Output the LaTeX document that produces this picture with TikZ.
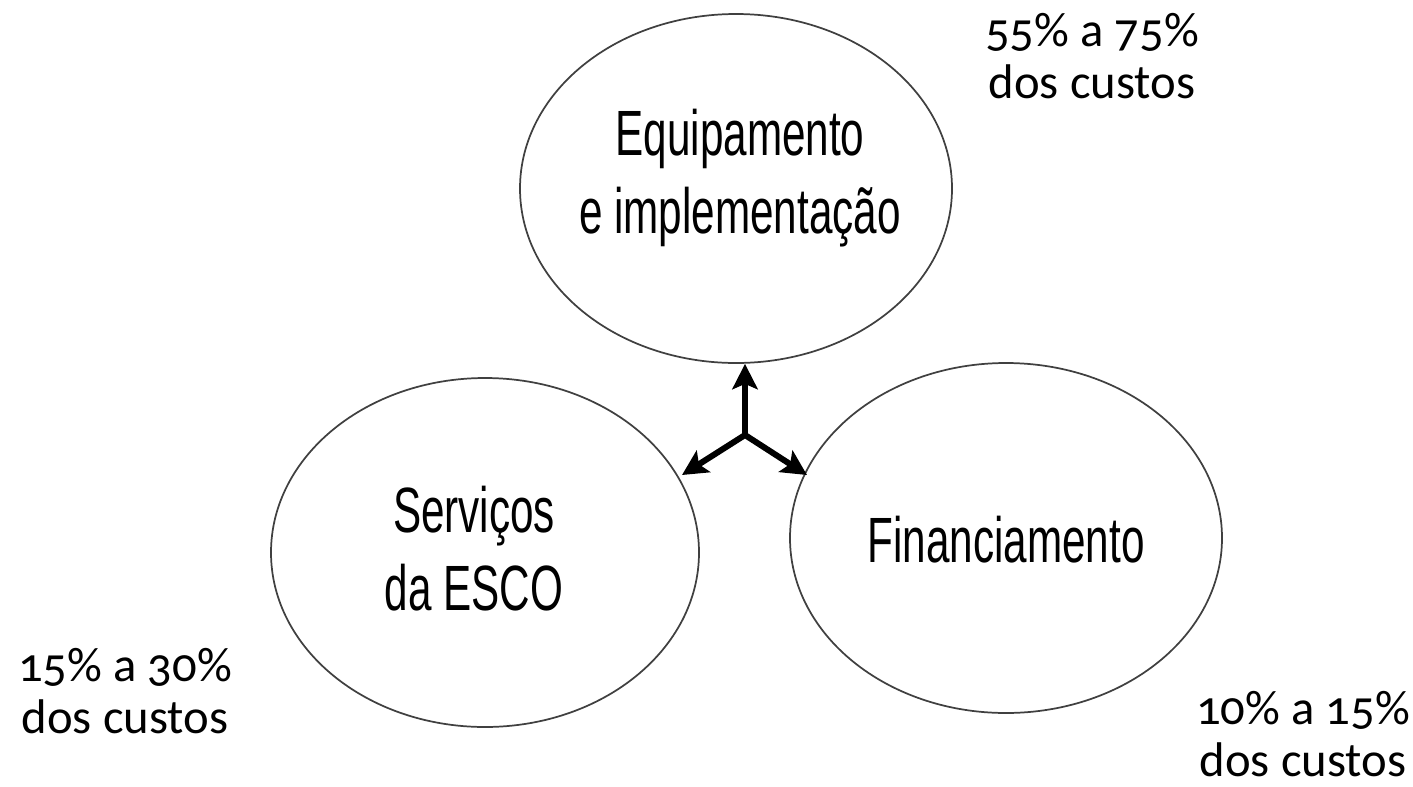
\documentclass[tikz,border=0pt]{standalone}
\usepackage{fontspec}
\usetikzlibrary{shapes.geometric,arrows.meta}
\newfontfamily\condfont[FakeStretch=0.66]{Liberation Sans}
\newfontfamily\pctfont[Numbers=OldStyle]{Carlito}
\begin{document}
\begin{tikzpicture}[x=0.75pt,y=-0.75pt,
  oval/.style={draw=black!75, line width=1.3pt, ellipse, inner sep=0pt},
  lab/.style={font=\condfont\fontsize{48}{58.5}\selectfont, align=center, inner sep=0pt},
  pct/.style={font=\pctfont\fontsize{36.5}{39}\selectfont, align=center, inner sep=0pt},
  arr/.style={line width=4.5pt, -{Stealth[length=19pt,width=19pt,inset=4pt]}}
]
\useasboundingbox (0,0) rectangle (1413,786);
\node[oval, minimum width=432*0.75pt, minimum height=349*0.75pt] (top) at (736,188.5) {};
\node[oval, minimum width=428*0.75pt, minimum height=349*0.75pt] (left) at (485,552.5) {};
\node[oval, minimum width=432*0.75pt, minimum height=350*0.75pt] (right) at (1006,538) {};

\node[lab] (ttop) at (740,178) {Equipamento\\e implementação};
\node[lab] (tleft) at (474,549) {Serviços\\da ESCO};
\node[lab] (tright) at (1006,540) {Financiamento};

\node[pct] (ptop) at (1092,56) {55\% a 75\%\\dos custos};
\node[pct] (pleft) at (125,691) {15\% a 30\%\\dos custos};
\node[pct] (pright) at (1303,734) {10\% a 15\%\\dos custos};

\coordinate (j) at (745,435);
\coordinate (tipL) at (682,475);
\coordinate (tipR) at (807,475);
\draw[arr] (j) -- (j |- top.south);
\draw[arr] (j) -- (tipL);
\draw[arr] (j) -- (tipR);
\end{tikzpicture}
\end{document}
